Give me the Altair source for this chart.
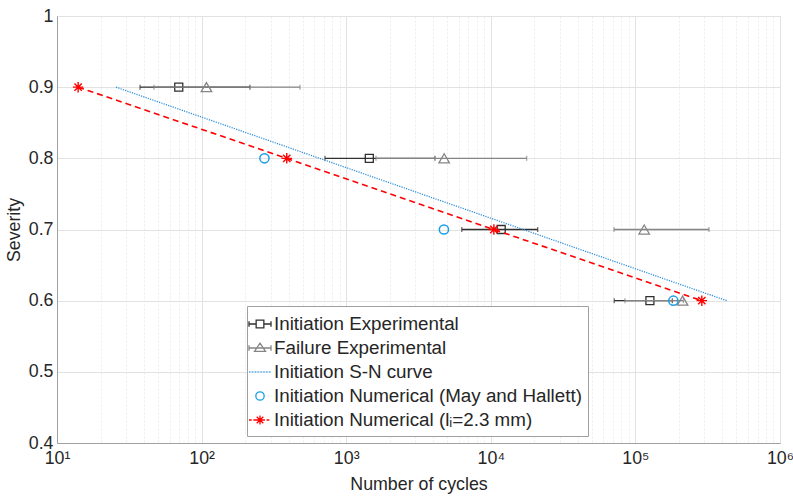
import altair as alt
import pandas as pd

# ---------------- data ----------------
severity = [0.9, 0.8, 0.7, 0.6]
init_cycles = [69.5, 1445, 11800, 126000]
init_lo = [37.5, 713, 6300, 71400]
init_hi = [216, 4110, 21100, 180000]
fail_cycles = [108, 4760, 115000, 212000]
fail_lo = [46.9, 1607, 71100, 84700]
fail_hi = [479, 17700, 323000, 215000]
sn_cycles = [25.6, 428000]
sn_severity = [0.9, 0.6]
mh_severity = [0.8, 0.7, 0.6]
mh_cycles = [272, 4740, 183000]
li_cycles = [14.0, 388, 10500, 288000]

series_names = [
    "Initiation Experimental",
    "Failure Experimental",
    "Initiation S-N curve",
    "Initiation Numerical (May and Hallett)",
    "Initiation Numerical (lᵢ=2.3 mm)",
]
x_ticks_major = [10, 100, 1000, 10000, 100000, 1000000]
y_ticks = [0.4, 0.5, 0.6, 0.7, 0.8, 0.9, 1.0]

# ---------------- styling ----------------
FONT = "Liberation Sans"
TXT = "#262626"
C_INIT = "#303030"
C_FAIL = "#858585"
C_SN = "#2f8fdb"
C_MH = "#1a9fe6"
C_RED = "#ff0000"
AX_FS = 17.8
LEG_FS = 18.8

x_ticks_all = []
for d in x_ticks_major[:-1]:
    x_ticks_all += [d * k for k in range(1, 10)]
x_ticks_all.append(x_ticks_major[-1])

major_test = "indexof([10,100,1000,10000,100000,1000000], datum.value) >= 0"
sup = "['10⁰','10¹','10²','10³','10⁴','10⁵','10⁶']"
x_label_expr = f"{major_test} ? {sup}[round(log(datum.value)/LN10)] : ''"

xs = alt.Scale(type="log", domain=[10, 1000000], nice=False)
ys = alt.Scale(domain=[0.4, 1.0], nice=False, zero=False)

xa = alt.Axis(
    values=x_ticks_all,
    labelExpr=x_label_expr,
    title="Number of cycles",
    grid=True,
    gridColor={"condition": {"test": major_test, "value": "#e2e2e2"}, "value": "#ededed"},
    gridDash={"condition": {"test": major_test, "value": []}, "value": [2, 2]},
    ticks=False,
    labelPadding=6,
    titlePadding=9,
    labelFlush=False,
)
ya = alt.Axis(
    values=y_ticks,
    format=".1~f",
    title="Severity",
    grid=True,
    gridColor="#e2e2e2",
    ticks=False,
    labelPadding=4,
    titlePadding=5,
)


def X(field):
    return alt.X(field, type="quantitative", scale=xs, axis=xa)


def Y(field):
    return alt.Y(field, type="quantitative", scale=ys, axis=ya)


exp_df = pd.DataFrame({
    "sev": severity,
    "init": init_cycles, "init_lo": init_lo, "init_hi": init_hi,
    "fail": fail_cycles, "fail_lo": fail_lo, "fail_hi": fail_hi,
})
sn_df = pd.DataFrame({"cyc": sn_cycles, "sev": sn_severity})
mh_df = pd.DataFrame({"cyc": mh_cycles, "sev": mh_severity})
li_df = pd.DataFrame({"cyc": li_cycles, "sev": severity})
leg_df = pd.DataFrame({"series": series_names, "cyc": [100] * 5, "sev": [0.5] * 5})

base = alt.Chart(exp_df)

init_bar = base.mark_rule(color=C_INIT, strokeWidth=1.3).encode(
    x=X("init_lo"), x2="init_hi", y=Y("sev"))
init_cap_lo = base.mark_tick(orient="vertical", color=C_INIT, size=5, thickness=1.3).encode(
    x=X("init_lo"), y=Y("sev"))
init_cap_hi = base.mark_tick(orient="vertical", color=C_INIT, size=5, thickness=1.3).encode(
    x=X("init_hi"), y=Y("sev"))
init_pts = base.mark_point(shape="square", size=64, filled=False, color=C_INIT, strokeWidth=1.3, opacity=1).encode(
    x=X("init"), y=Y("sev"))

fail_bar = base.mark_rule(color=C_FAIL, strokeWidth=1.3).encode(
    x=X("fail_lo"), x2="fail_hi", y=Y("sev"))
fail_cap_lo = base.mark_tick(orient="vertical", color=C_FAIL, size=5, thickness=1.3).encode(
    x=X("fail_lo"), y=Y("sev"))
fail_cap_hi = base.mark_tick(orient="vertical", color=C_FAIL, size=5, thickness=1.3).encode(
    x=X("fail_hi"), y=Y("sev"))
fail_pts = base.mark_point(shape="triangle-up", size=110, filled=False, color=C_FAIL, strokeWidth=1.3, opacity=1).encode(
    x=X("fail"), y=Y("sev"))

sn_line = alt.Chart(sn_df).mark_line(color=C_SN, strokeWidth=1.3, strokeDash=[1.2, 1.2]).encode(
    x=X("cyc"), y=Y("sev"))

mh_pts = alt.Chart(mh_df).mark_point(shape="circle", size=85, filled=False, color=C_MH, strokeWidth=1.5, opacity=1).encode(
    x=X("cyc"), y=Y("sev"))

asterisk = "M0,-1L0,1M-1,0L1,0M-0.7,-0.7L0.7,0.7M-0.7,0.7L0.7,-0.7"
li_line = alt.Chart(li_df).mark_line(color=C_RED, strokeWidth=1.6, strokeDash=[6, 4]).encode(
    x=X("cyc"), y=Y("sev"))
li_pts = alt.Chart(li_df).mark_point(shape=asterisk, size=110, filled=False, color=C_RED, strokeWidth=1.4, opacity=1).encode(
    x=X("cyc"), y=Y("sev"))

# ----- legend symbols (composite paths, unit square [-1,1]) -----
def dashes(seg, gap):
    s, p = "", -1.0
    while p < 1.0:
        e = min(p + seg, 1.0)
        s += f"M{p:.3f},0L{e:.3f},0"
        p = e + gap
    return s

sym_init = "M-1,-0.25L-1,0.25M-1,0L-0.35,0M0.35,0L1,0M1,-0.25L1,0.25M-0.35,-0.35L0.35,-0.35L0.35,0.35L-0.35,0.35Z"
sym_fail = "M-1,-0.25L-1,0.25M-1,0L1,0M1,-0.25L1,0.25M0,-0.45L0.5,0.3L-0.5,0.3Z"
sym_sn = dashes(0.07, 0.07)
sym_mh = "M0.38,0A0.38,0.38,0,1,1,-0.38,0A0.38,0.38,0,1,1,0.38,0"
sym_li = dashes(0.25, 0.15) + "M0,-0.42L0,0.42M-0.42,0L0.42,0M-0.3,-0.3L0.3,0.3M-0.3,0.3L0.3,-0.3"

legend_layer = alt.Chart(leg_df).transform_filter("false").mark_point(filled=False, opacity=1).encode(
    x=X("cyc"), y=Y("sev"),
    color=alt.Color("series:N",
                    scale=alt.Scale(domain=series_names, range=[C_INIT, C_FAIL, C_SN, C_MH, C_RED]),
                    legend=alt.Legend(
                        title=None, orient="none", legendX=190, legendY=290,
                        direction="vertical",
                        labelFont=FONT, labelFontSize=LEG_FS, labelColor=TXT, labelLimit=500,
                        symbolSize=484, symbolStrokeWidth=1.3, symbolOffset=-5,
                        labelOffset=2, rowPadding=2, padding=6,
                        strokeColor="#a0a0a0", fillColor="white",
                    )),
    shape=alt.Shape("series:N", scale=alt.Scale(domain=series_names,
                                                range=[sym_init, sym_fail, sym_sn, sym_mh, sym_li])),
)

chart = alt.layer(
    init_bar, init_cap_lo, init_cap_hi, init_pts,
    fail_bar, fail_cap_lo, fail_cap_hi, fail_pts,
    sn_line, mh_pts, li_line, li_pts, legend_layer,
).properties(
    width=723, height=427,
    autosize=alt.AutoSizeParams(type="none"),
    padding={"left": 57, "top": 16, "right": 13, "bottom": 53},
).configure(
    font=FONT,
    background="white",
).configure_view(
    stroke="#a0a0a0", strokeWidth=1,
).configure_axis(
    labelFont=FONT, titleFont=FONT, labelFontSize=AX_FS, titleFontSize=AX_FS,
    labelColor=TXT, titleColor=TXT, titleFontWeight="normal",
    domainColor="#a0a0a0",
)

chart.save("out.html", embed_options={"renderer": "svg", "actions": False})
